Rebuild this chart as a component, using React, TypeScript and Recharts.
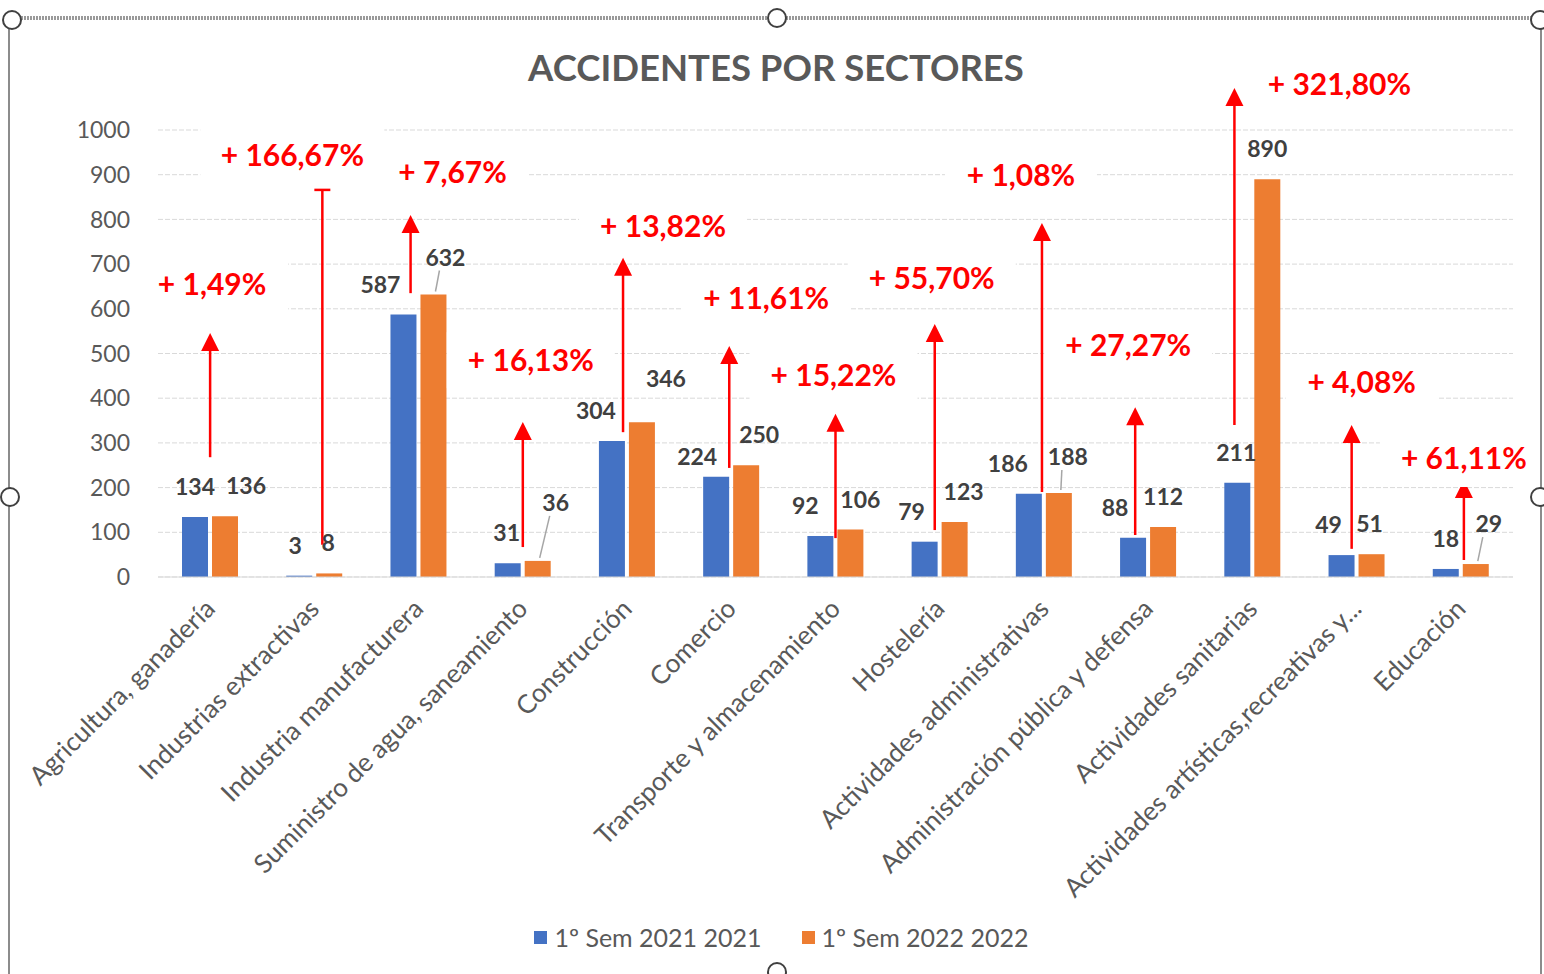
import React from 'react';
import {
  BarChart,
  Bar,
  XAxis,
  YAxis,
  CartesianGrid,
  Legend,
  LabelList,
  ReferenceLine,
  ReferenceDot,
} from 'recharts';

// datos
const sectors = [
  'Agricultura, ganadería',
  'Industrias extractivas',
  'Industria manufacturera',
  'Suministro de agua, saneamiento',
  'Construcción',
  'Comercio',
  'Transporte y almacenamiento',
  'Hostelería',
  'Actividades administrativas',
  'Administración pública y defensa',
  'Actividades sanitarias',
  'Actividades artísticas,recreativas y...',
  'Educación',
];
const sem2021 = [134, 3, 587, 31, 304, 224, 92, 79, 186, 88, 211, 49, 18];
const sem2022 = [136, 8, 632, 36, 346, 250, 106, 123, 188, 112, 890, 51, 29];
const increments = [
  '+ 1,49%', '+ 166,67%', '+ 7,67%', '+ 16,13%', '+ 13,82%', '+ 11,61%', '+ 15,22%',
  '+ 55,70%', '+ 1,08%', '+ 27,27%', '+ 321,80%', '+ 4,08%', '+ 61,11%',
];
const yTicks = [0, 100, 200, 300, 400, 500, 600, 700, 800, 900, 1000];
const seriesNames = ['1º Sem 2021 2021', '1º Sem 2022 2022'];

// anotaciones (en unidades del eje Y)
const arrowFrom = [268, 72, 635, 67, 324, 244, 87, 105, 190, 94, 340, 63, 38];
const arrowTo = [546, 866, 810, 347, 714, 517, 365, 566, 792, 380, 1094, 340, 217];
const labelAt = [655, 944, 904, 485, 785, 622, 450, 667, 899, 517, 1101, 436, 264];
// desplazamientos en px (maquetación de anotaciones y etiquetas)
const arrowShift = [0, 8, -8, 0, -4, -2, 0, -5, -2, -13, -18, -5, 3];
const labelShift = [2, -22, 34, 8, 36, 35, -2, -8, -23, -20, 87, 5, 3];
const blueDx = [0, -4, -23, -1, -16, -19, -15, -13, -21, -18, -1, -13, 0];
const blueDy = [0, 0, 0, 0, 0, 10, 0, 0, 0, 0, 0, 0, 0];
const orangeDx = [21, -1, 12, 18, 24, 13, 10, 9, 9, 0, 0, -2, 13];
const orangeDy = [0, 0, -7, -28, -13, 0, 0, 0, -6, 0, 0, 0, -10];
const orangeLeader = [false, false, true, true, false, false, false, false, true, false, false, false, true];
const noLeader = sectors.map(() => false);

const data = sectors.map((name, i) => ({ name, s2021: sem2021[i], s2022: sem2022[i] }));

const FONT = 'Lato, "Open Sans", sans-serif';
const BLUE = '#4472C4';
const ORANGE = '#ED7D31';
const GRAY = '#595959';
const RED = '#FF0000';

const CategoryTick = ({ x, y, payload }: any) => {
  const ax = x;
  const ay = y + 27;
  return (
    <text
      x={ax}
      y={ay}
      dy="0.35em"
      transform={`rotate(-45 ${ax} ${ay})`}
      textAnchor="end"
      fill={GRAY}
      fontSize={26}
      fontFamily={FONT}
    >
      {payload.value}
    </text>
  );
};

const valueLabel = (dxs: number[], dys: number[], leaders: boolean[]) => (props: any) => {
  const { x, y, width, value, index } = props;
  const cx = x + width / 2;
  const lx = cx + dxs[index];
  const ly = y - 30 + dys[index];
  return (
    <g>
      {leaders[index] && (
        <line x1={cx + 2} y1={y - 3} x2={lx - 6} y2={ly + 13} stroke="#a6a6a6" strokeWidth={1.5} />
      )}
      <text
        x={lx}
        y={ly}
        dy="0.35em"
        textAnchor="middle"
        fill="#404040"
        fontSize={23}
        fontWeight={700}
        fontFamily={FONT}
      >
        {value}
      </text>
    </g>
  );
};

const Arrow = ({ x1, y1, x2, y2, shift, bar }: any) => {
  const xa = x1 + shift;
  const xb = x2 + shift;
  if (bar) {
    return (
      <g>
        <line x1={xa} y1={y1} x2={xb} y2={y2} stroke={RED} strokeWidth={2.5} />
        <line x1={xb - 8} y1={y2} x2={xb + 8} y2={y2} stroke={RED} strokeWidth={2.5} />
      </g>
    );
  }
  return (
    <g>
      <line x1={xa} y1={y1} x2={xb} y2={y2 + 14} stroke={RED} strokeWidth={2.5} />
      <polygon points={`${xb},${y2} ${xb - 9},${y2 + 18} ${xb + 9},${y2 + 18}`} fill={RED} />
    </g>
  );
};

const PctLabel = ({ cx, cy, text }: any) => {
  const w = text.length * 16 + 40;
  const h = 56;
  return (
    <g>
      <rect x={cx - w / 2} y={cy - h / 2} width={w} height={h} fill="#ffffff" />
      <text
        x={cx}
        y={cy}
        dy="0.35em"
        textAnchor="middle"
        fill={RED}
        fontSize={30}
        fontWeight={700}
        fontFamily={FONT}
      >
        {text}
      </text>
    </g>
  );
};

const LegendContent = () => (
  <div
    style={{
      display: 'flex',
      justifyContent: 'center',
      gap: 40,
      paddingLeft: 50,
      fontSize: 25,
      color: GRAY,
      fontFamily: FONT,
    }}
  >
    {seriesNames.map((n, i) => (
      <span key={n} style={{ display: 'flex', alignItems: 'center' }}>
        <span
          style={{
            display: 'inline-block',
            width: 13,
            height: 13,
            background: i === 0 ? BLUE : ORANGE,
            marginRight: 7,
          }}
        />
        {n}
      </span>
    ))}
  </div>
);

const Frame = () => {
  const handles = [
    [12, 20], [777, 18], [1540, 20], [10, 497], [1540, 497], [777, 972],
  ];
  return (
    <svg
      width={1544}
      height={974}
      style={{ position: 'absolute', left: 0, top: 0, pointerEvents: 'none' }}
    >
      <line x1={12} y1={18} x2={1540} y2={18} stroke="#9a9a9a" strokeWidth={4} strokeDasharray="2 1" />
      <line x1={9} y1={20} x2={9} y2={974} stroke="#8c8c8c" strokeWidth={2} />
      <line x1={1541} y1={20} x2={1541} y2={974} stroke="#8c8c8c" strokeWidth={2} />
      {handles.map(([x, y], i) => (
        <circle key={i} cx={x} cy={y} r={9} fill="#ffffff" stroke="#404040" strokeWidth={2} />
      ))}
    </svg>
  );
};

const App = () => {
  return (
    <div
      style={{
        position: 'absolute',
        left: 0,
        top: 0,
        width: 1544,
        height: 974,
        background: '#ffffff',
        overflow: 'hidden',
      }}
    >
      <div
        style={{
          position: 'absolute',
          left: 0,
          top: 45,
          width: 1552,
          textAlign: 'center',
          fontFamily: FONT,
          fontWeight: 700,
          fontSize: 36.5,
          color: GRAY,
        }}
      >
        ACCIDENTES POR SECTORES
      </div>
      <BarChart
        width={1544}
        height={974}
        data={data}
        margin={{ top: 130, right: 31, bottom: 22, left: 0 }}
        barSize={26}
        barGap={4}
      >
        <CartesianGrid vertical={false} stroke="#d9d9d9" strokeDasharray="5 2" />
        <XAxis
          dataKey="name"
          height={345}
          interval={0}
          axisLine={{ stroke: '#d9d9d9' }}
          tickLine={false}
          tickSize={0}
          tickMargin={0}
          tick={<CategoryTick />}
        />
        <YAxis
          width={158}
          domain={[0, 1000]}
          ticks={yTicks}
          axisLine={false}
          tickLine={false}
          tickSize={6}
          tickMargin={22}
          tick={{ fill: GRAY, fontSize: 23, fontFamily: FONT }}
        />
        <Legend verticalAlign="bottom" height={30} content={<LegendContent />} />
        <Bar dataKey="s2021" name={seriesNames[0]} fill={BLUE} isAnimationActive={false}>
          <LabelList dataKey="s2021" content={valueLabel(blueDx, blueDy, noLeader)} />
        </Bar>
        <Bar dataKey="s2022" name={seriesNames[1]} fill={ORANGE} isAnimationActive={false}>
          <LabelList dataKey="s2022" content={valueLabel(orangeDx, orangeDy, orangeLeader)} />
        </Bar>
        {sectors.map((s, i) => (
          <ReferenceDot
            key={'p' + i}
            x={s}
            y={labelAt[i]}
            r={1}
            ifOverflow="visible"
            shape={(p: any) => <PctLabel cx={p.cx + labelShift[i]} cy={p.cy} text={increments[i]} />}
          />
        ))}
        {sectors.map((s, i) => (
          <ReferenceLine
            key={'a' + i}
            segment={[
              { x: s, y: arrowFrom[i] },
              { x: s, y: arrowTo[i] },
            ]}
            ifOverflow="visible"
            shape={(p: any) => <Arrow {...p} shift={arrowShift[i]} bar={i === 1} />}
          />
        ))}
      </BarChart>
      <Frame />
    </div>
  );
};

export default App;
